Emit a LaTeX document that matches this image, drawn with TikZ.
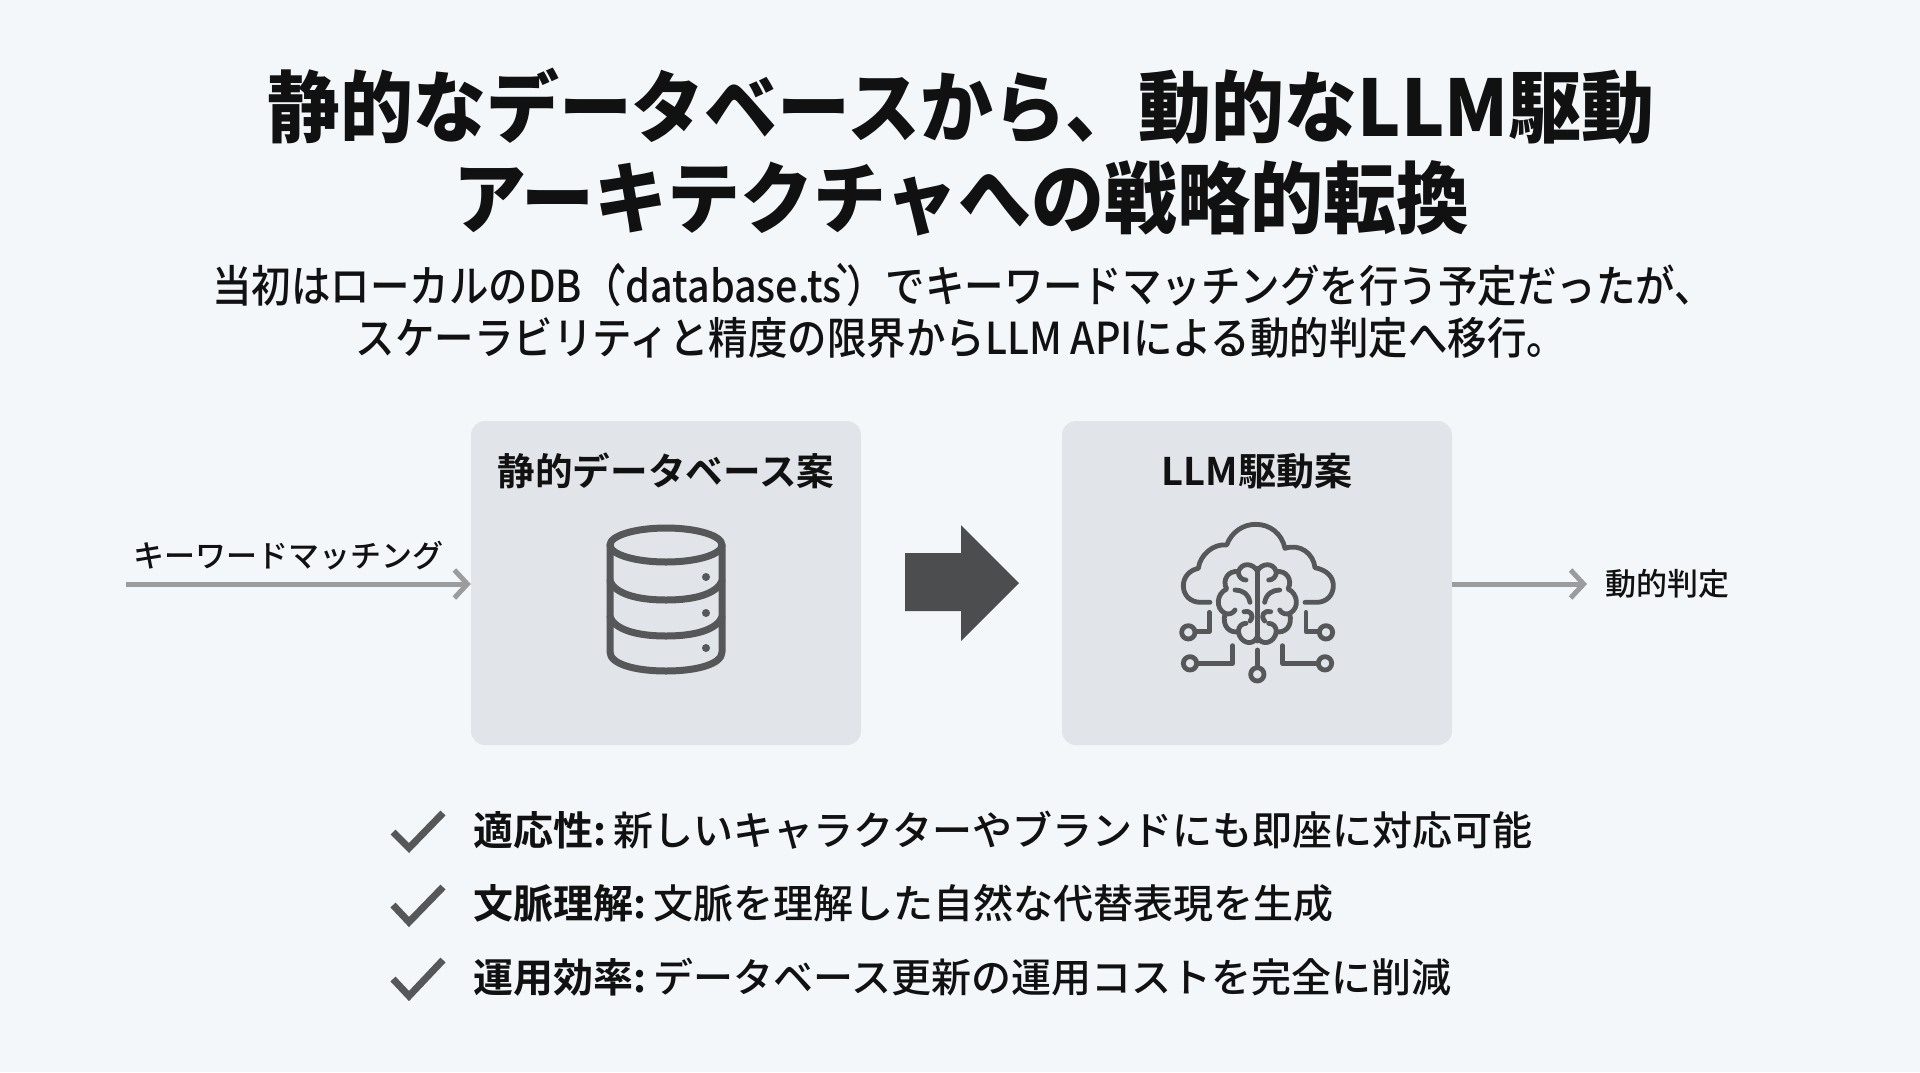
\documentclass[tikz,border=0pt]{standalone}
\usepackage{fontspec}
\setmainfont{Noto Sans CJK JP}
\newfontfamily\jpblack[FakeStretch=0.935]{Noto Sans CJK JP Black}
\newfontfamily\jpb{Noto Sans CJK JP Bold}
\newfontfamily\jpm{Noto Sans CJK JP Medium}
\newfontfamily\jpsub[FakeStretch=0.897]{Noto Sans CJK JP Medium}
\usetikzlibrary{arrows.meta}
\definecolor{bgc}{HTML}{F3F7FA}
\definecolor{boxc}{HTML}{E1E4E8}
\definecolor{icon}{HTML}{555759}
\definecolor{arrowc}{HTML}{9A9C9E}
\definecolor{ink}{HTML}{111111}
\newcommand{\fs}[1]{\fontsize{#1pt}{#1pt}\selectfont}
\newcommand{\tick}[2]{\kern#1pt\symbol{96}\kern#2pt\relax}
\newcommand{\lead}[1]{{\jpb #1}\hspace{7.5pt}}
\tikzset{
 x=1pt,y=-1pt,
 txt/.style={inner sep=0pt,text=ink},
 panel/.style={fill=boxc,rounded corners=14pt,draw=none},
 flow/.style={draw=arrowc,line width=5pt,-{Straight Barb[length=13pt,width=28pt,line width=5pt]}},
 ic/.style={draw=icon,line width=7pt,line cap=round,line join=round},
 ict/.style={draw=icon,line width=4.8pt,line cap=round,line join=round},
 chk/.style={draw=icon,line width=7pt,line join=miter},
 rowt/.style={txt,font=\jpm\fs{40},anchor=west},
}
\begin{document}
\begin{tikzpicture}
\useasboundingbox (0,0) rectangle (1920,1072);
\fill[bgc] (0,0) rectangle (1920,1072);
\node[txt,font=\jpblack\fs{78}] (t1) at (961,106) {静的なデータベースから、動的なLLM駆動};
\node[txt,font=\jpblack\fs{78}] (t2) at (961,198) {アーキテクチャへの戦略的転換};
\node[txt,font=\jpsub\fs{44}] (s1) at (963,285) {当初はローカルのDB（\tick{-11}{-9}database.ts\tick{-9}{-11}）でキーワードマッチングを行う予定だったが、};
\node[txt,font=\jpsub\fs{44}] (s2) at (961,338) {スケーラビリティと精度の限界からLLM APIによる動的判定へ移行。};
\node[panel,minimum width=390pt,minimum height=324pt] (a) at (666,583) {};
\node[panel,minimum width=390pt,minimum height=324pt] (b) at (1257,583) {};
\node[txt,font=\jpb\fs{37.6}] (at) at (666,471) {静的データベース案};
\node[txt,font=\jpb\fs{38}] (bt) at (1257,471) {LLM駆動案};
\coordinate (in) at (126,584);
\coordinate (out) at (1587,584);
\node[txt,font=\jpm\fs{31}] (kw) at (288,556) {キーワードマッチング};
\node[txt,font=\jpm\fs{31},anchor=west] (dj) at (1605,584) {動的判定};
\draw[flow] (in) -- (a.west |- in);
\draw[flow] (b.east |- out) -- (out);
\fill[fill=icon!88!black] (905,553) -- (961,553) -- (961,525) -- (1019,583) -- (961,641) -- (961,611) -- (905,611) -- cycle;
% database
\draw[ic] (666,545) ellipse (56pt and 17pt);
\draw[ic] (610,545) -- (610,652) .. controls (610,664) and (635,671) .. (666,671) .. controls (697,671) and (722,664) .. (722,652) -- (722,545);
\draw[ic] (610,581) .. controls (615,593) and (635,600) .. (666,600) .. controls (697,600) and (717,593) .. (722,581);
\draw[ic] (610,617) .. controls (615,629) and (635,636) .. (666,636) .. controls (697,636) and (717,629) .. (722,617);
\fill[icon] (706,577) circle (4pt) (706,613) circle (4pt) (706,648) circle (4pt);
% cloud, brain, circuits (drawn in the 3x crop's coordinates)
\begin{scope}[shift={(1170,515)},scale=1/3]
\draw[ict] (120,262) -- (92,262) .. controls (60,262) and (40,240) .. (40,212) .. controls (40,185) and (60,165) .. (85,160) .. controls (90,120) and (130,85) .. (170,90) .. controls (185,50) and (220,28) .. (257,28) .. controls (300,28) and (335,55) .. (345,100) .. controls (390,85) and (430,115) .. (435,158) .. controls (470,165) and (490,185) .. (490,212) .. controls (490,240) and (470,262) .. (440,262) -- (405,262);
\draw[ict] (262,160) -- (262,378);
\foreach \sx in {1,-1}{
 \begin{scope}[shift={(262,0)},xscale=\sx,shift={(-262,0)}]
 \draw[ict] (262,168) .. controls (250,145) and (215,140) .. (205,170) .. controls (175,165) and (155,195) .. (170,222) .. controls (140,235) and (135,280) .. (165,295) .. controls (155,335) and (180,355) .. (205,350) .. controls (210,385) and (250,395) .. (262,365);
 \draw[ict] (205,170) .. controls (205,185) and (215,195) .. (228,195);
 \draw[ict] (195,225) .. controls (215,225) and (235,235) .. (240,262);
 \draw[ict] (165,295) .. controls (175,300) and (190,295) .. (195,285);
 \draw[ict] (222,290) .. controls (240,285) and (255,300) .. (240,318);
 \draw[ict] (205,350) .. controls (205,335) and (215,325) .. (228,325);
 \end{scope}
}
\draw[ict] (118,292) -- (118,350) -- (78,350);
\draw[ict] (55,352) circle[radius=20];
\draw[ict] (188,392) -- (188,445) -- (82,445);
\draw[ict] (60,445) circle[radius=20];
\draw[ict] (262,405) -- (262,458);
\draw[ict] (262,478) circle[radius=20];
\draw[ict] (337,392) -- (337,445) -- (443,445);
\draw[ict] (465,445) circle[radius=20];
\draw[ict] (408,292) -- (408,350) -- (446,350);
\draw[ict] (468,352) circle[radius=20];
\end{scope}
% check list
\draw[chk] (393,832) -- (409,848) -- (443,813);
\draw[chk] (393,905) -- (409,922) -- (443,887);
\draw[chk] (393,979) -- (409,996) -- (443,960);
\node[rowt] (r1) at (473,830) {\lead{適応性:}新しいキャラクターやブランドにも即座に対応可能};
\node[rowt] (r2) at (473,903) {\lead{文脈理解:}文脈を理解した自然な代替表現を生成};
\node[rowt] (r3) at (473,977) {\lead{運用効率:}データベース更新の運用コストを完全に削減};
\end{tikzpicture}
\end{document}
